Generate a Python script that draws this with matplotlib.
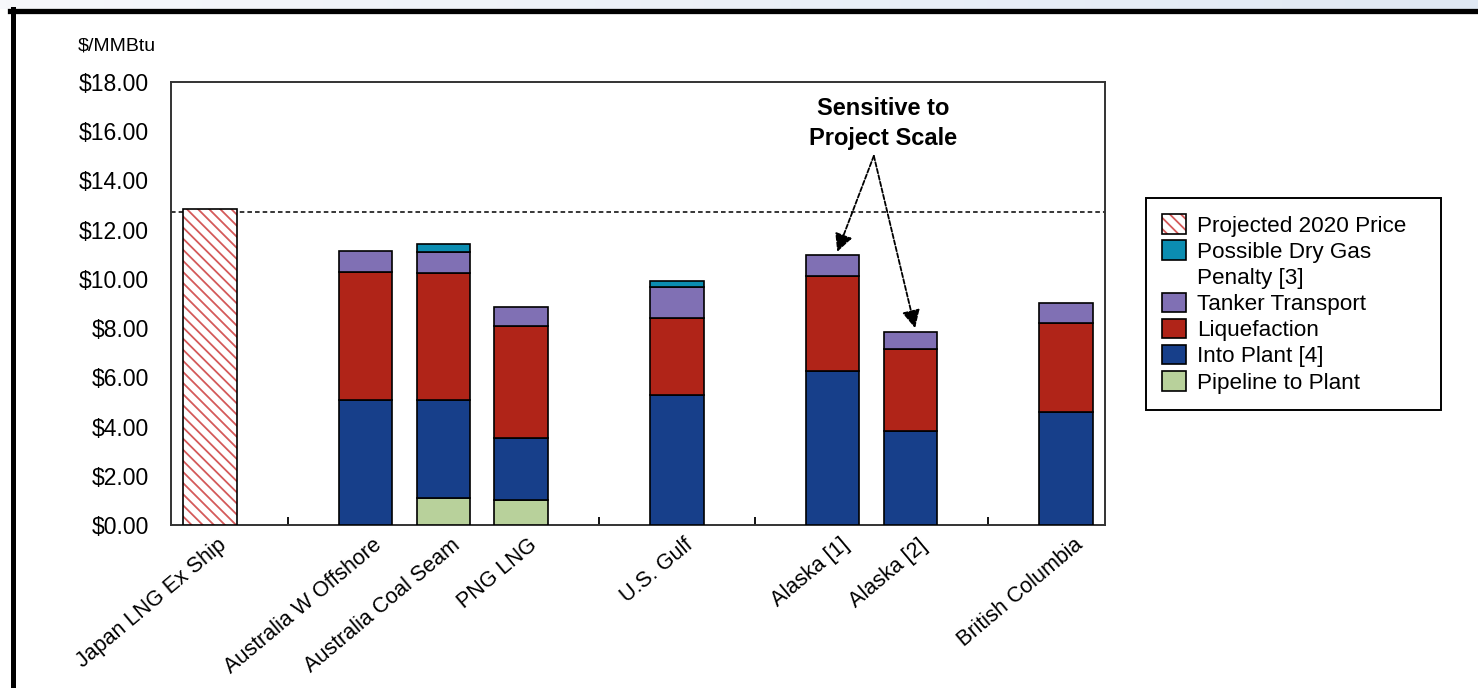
import numpy as np
import matplotlib
matplotlib.use("Agg")
import matplotlib.pyplot as plt
import matplotlib.transforms as mtransforms
from matplotlib.patches import Patch
from matplotlib.lines import Line2D
from matplotlib.colors import LinearSegmentedColormap

plt.rcParams['font.family'] = ['Liberation Sans', 'DejaVu Sans']
plt.rcParams['hatch.linewidth'] = 1.3

# ---------------- data ----------------
categories = ["Japan LNG Ex Ship", "", "Australia W Offshore", "Australia Coal Seam",
              "PNG LNG", "", "U.S. Gulf", "", "Alaska [1]", "Alaska [2]", "",
              "British Columbia"]
projected_2020 = [12.85, 0, 0, 0, 0, 0, 0, 0, 0, 0, 0, 0]
pipeline_to_plant = [0, 0, 0, 1.08, 1.02, 0, 0, 0, 0, 0, 0, 0]
into_plant = [0, 0, 5.08, 4.00, 2.50, 0, 5.28, 0, 6.26, 3.82, 0, 4.61]
liquefaction = [0, 0, 5.22, 5.14, 4.55, 0, 3.15, 0, 3.87, 3.33, 0, 3.59]
tanker_transport = [0, 0, 0.84, 0.89, 0.80, 0, 1.26, 0, 0.85, 0.68, 0, 0.84]
dry_gas_penalty = [0, 0, 0, 0.32, 0, 0, 0.24, 0, 0, 0, 0, 0]
price_line = 12.7
yticks = [0, 2, 4, 6, 8, 10, 12, 14, 16, 18]
annotation_text = "Sensitive to\nProject Scale"
arrow_start = (8.53, 15.0)
arrow_targets = [(8.06, 11.1), (9.06, 8.0)]
legend_labels = ["Projected 2020 Price   ", "Possible Dry Gas", "Penalty [3]",
                 "Tanker Transport", "Liquefaction", "Into Plant [4]", "Pipeline to Plant"]

# ---------------- style ----------------
C_PIPE = "#b8d19b"
C_INTO = "#173f8a"
C_LIQ = "#b02418"
C_TANK = "#8070b4"
C_DRY = "#0b8db1"
C_HATCH = "#d45a5a"
EDGE_LW = 1.2
W = 0.69
HATCH = "\\\\\\"

fig = plt.figure(figsize=(14.78, 6.88), dpi=100)
fig.patch.set_facecolor("white")

# top gradient band
band = fig.add_axes([0, 1 - 9 / 688, 1, 9 / 688])
grad = np.linspace(0, 1, 256)[None, :]
cmap = LinearSegmentedColormap.from_list("g", ["#f7f8fb", "#e0e9f4"])
band.imshow(grad, aspect="auto", cmap=cmap, extent=[0, 1, 0, 1])
band.set_axis_off()

# frame lines
fig.add_artist(Line2D([10 / 1478, 1], [1 - 10.8 / 688, 1 - 10.8 / 688],
                      transform=fig.transFigure, color="black", lw=3.8))
fig.add_artist(Line2D([12.5 / 1478, 12.5 / 1478], [1 - 9 / 688, 0],
                      transform=fig.transFigure, color="black", lw=3.6))

ax = fig.add_axes([171 / 1478, 1 - 525 / 688, (1105 - 171) / 1478, (525 - 82) / 688])
x = np.arange(len(categories))


def stacked(values, bottoms, color):
    vals = np.array(values, dtype=float)
    idx = np.where(vals > 0)[0]
    ax.bar(x[idx], vals[idx], W, bottom=np.array(bottoms)[idx], color=color,
           edgecolor="black", linewidth=EDGE_LW, zorder=3)


bottom = np.zeros(len(categories))
for vals, col in [(pipeline_to_plant, C_PIPE), (into_plant, C_INTO),
                  (liquefaction, C_LIQ), (tanker_transport, C_TANK),
                  (dry_gas_penalty, C_DRY)]:
    stacked(vals, bottom, col)
    bottom = bottom + np.array(vals)

# hatched projected price bar
pv = np.array(projected_2020, dtype=float)
pidx = np.where(pv > 0)[0]
ax.bar(x[pidx], pv[pidx], W, color="white", edgecolor=C_HATCH, hatch=HATCH,
       linewidth=0, zorder=3)
ax.bar(x[pidx], pv[pidx], W, fill=False, edgecolor="black", linewidth=EDGE_LW, zorder=4)

# dashed price line
ax.axhline(price_line, color="black", linestyle=(0, (3, 2)), lw=1.1, zorder=2)

ax.set_xlim(-0.5, len(categories) - 0.5)
ax.set_ylim(0, 18)
ax.set_yticks(yticks)
ax.set_yticklabels([f"${v:.2f}" for v in yticks], fontsize=16.5)
ax.tick_params(axis="y", length=0, pad=16)
ax.set_xticks(x)
ax.set_xticklabels(categories, rotation=40, ha="right", rotation_mode="anchor",
                   fontsize=15.5)
ax.tick_params(axis="x", direction="in", length=6, width=1.3, pad=7)
shift = mtransforms.ScaledTranslation(7 / 100, 0, fig.dpi_scale_trans)
for lbl in ax.get_xticklabels():
    lbl.set_transform(lbl.get_transform() + shift)
for s in ax.spines.values():
    s.set_linewidth(1.4)
    s.set_color("#333333")

fig.text(78 / 1478, 1 - 46 / 688, "$/MMBtu", fontsize=14, va="center", ha="left")

# annotation
ax.text(8.65, 16.33, annotation_text, ha="center", va="center", fontsize=17,
        fontweight="bold", linespacing=1.38)
for tgt in arrow_targets:
    ax.annotate("", xy=tgt, xytext=arrow_start,
                arrowprops=dict(arrowstyle="-|>,head_length=0.68,head_width=0.34",
                                color="black", lw=1.3,
                                linestyle=(0, (2.5, 1.2)), mutation_scale=16,
                                shrinkA=0, shrinkB=0))

# legend
h_proj = (Patch(facecolor="white", edgecolor=C_HATCH, hatch=HATCH, linewidth=0),
          Patch(fill=False, edgecolor="black", linewidth=EDGE_LW))
handles = [h_proj,
           Patch(facecolor=C_DRY, edgecolor="black", linewidth=EDGE_LW),
           Patch(facecolor="none", edgecolor="none"),
           Patch(facecolor=C_TANK, edgecolor="black", linewidth=EDGE_LW),
           Patch(facecolor=C_LIQ, edgecolor="black", linewidth=EDGE_LW),
           Patch(facecolor=C_INTO, edgecolor="black", linewidth=EDGE_LW),
           Patch(facecolor=C_PIPE, edgecolor="black", linewidth=EDGE_LW)]
leg = fig.legend(handles, legend_labels, loc="upper left",
                 bbox_to_anchor=(1146 / 1478, 1 - 198 / 688),
                 bbox_transform=fig.transFigure, borderaxespad=0,
                 fontsize=16.2, frameon=True, fancybox=False, framealpha=1,
                 edgecolor="black", handlelength=1.05, handleheight=0.95,
                 handletextpad=0.5, labelspacing=0.165, borderpad=0.72)
leg.get_frame().set_linewidth(1.4)

fig.savefig("out.png", dpi=100)
